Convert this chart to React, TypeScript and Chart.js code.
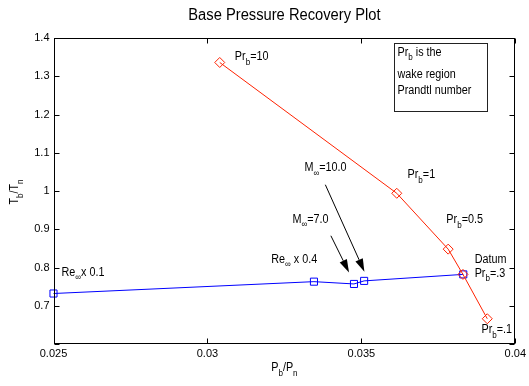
import React, { useEffect, useRef } from "react";
import { Chart, registerables } from "chart.js";
Chart.register(...registerables);

// Red series: Pr_b variation
const prX = [0.0304, 0.03615, 0.03782, 0.0383, 0.03909];
const prY = [1.336, 0.994, 0.848, 0.782, 0.666];
// Blue series: Re / Mach variation
const reX = [0.025, 0.03346, 0.03476, 0.03509, 0.03831];
const reY = [0.732, 0.763, 0.757, 0.765, 0.782];

const xTickValues = [0.025, 0.03, 0.035, 0.04];
const xTickLabels = ["0.025", "0.03", "0.035", "0.04"];
const yTickValues = [0.6, 0.7, 0.8, 0.9, 1.0, 1.1, 1.2, 1.3, 1.4];
const yTickLabels = ["", "0.7", "0.8", "0.9", "1", "1.1", "1.2", "1.3", "1.4"];

const titleText = "Base Pressure Recovery Plot";
const xTitle = "P_{b}/P_{n}";
const yTitle = "T_{b}/T_{n}";

// Annotation texts (data-coordinate anchors: left edge, vertical middle)
const labelTexts = ["Pr_{b}=10", "Pr_{b}=1", "Pr_{b}=0.5", "Datum", "Pr_{b}=.3", "Pr_{b}=.1", "Re_{∞}x 0.1", "Re_{∞} x 0.4", "M_{∞}=7.0", "M_{∞}=10.0"];
const labelX = [0.03089, 0.0365, 0.03776, 0.03868, 0.03868, 0.0389, 0.02526, 0.03207, 0.03276, 0.03315];
const labelY = [1.35, 1.042, 0.924, 0.82, 0.785, 0.637, 0.7875, 0.8214, 0.926, 1.061];

// Arrows
const arrowFromX = [0.03383, 0.03401];
const arrowFromY = [1.0164, 0.883];
const arrowToX = [0.0351, 0.0346];
const arrowToY = [0.789, 0.787];

// Note box
const noteLines = ["Pr_{b} is the", "wake region", "Prandtl number"];
const noteBoxX = [0.03605, 0.03908];
const noteBoxY = [1.387, 1.209];
const noteLineY = [1.362, 1.305, 1.262];

const FONT = "'Liberation Sans', Arial, sans-serif";
const SQUEEZE = 0.9;

function parseRich(text: string) {
  const segs: { t: string; sub: boolean }[] = [];
  const re = /_\{([^}]*)\}/g;
  let last = 0;
  let m: RegExpExecArray | null;
  while ((m = re.exec(text))) {
    if (m.index > last) segs.push({ t: text.slice(last, m.index), sub: false });
    segs.push({ t: m[1], sub: true });
    last = m.index + m[0].length;
  }
  if (last < text.length) segs.push({ t: text.slice(last), sub: false });
  return segs;
}

function drawRich(ctx: CanvasRenderingContext2D, text: string, x: number, y: number, size: number, align: "left" | "center" = "left", squeeze = SQUEEZE) {
  const segs = parseRich(text);
  const subSize = Math.round(size * 0.78);
  let total = 0;
  for (const s of segs) {
    ctx.font = `${s.sub ? subSize : size}px ${FONT}`;
    total += ctx.measureText(s.t).width;
  }
  ctx.save();
  ctx.translate(x, y);
  ctx.scale(squeeze, 1);
  let cx = align === "center" ? -total / 2 : 0;
  ctx.textBaseline = "middle";
  ctx.textAlign = "left";
  for (const s of segs) {
    ctx.font = `${s.sub ? subSize : size}px ${FONT}`;
    ctx.fillText(s.t, cx, s.sub ? size * 0.45 : 0);
    cx += ctx.measureText(s.t).width;
  }
  ctx.restore();
}

const decorPlugin = {
  id: "decor",
  afterDraw(chart: any) {
    const ctx: CanvasRenderingContext2D = chart.ctx;
    const xs = chart.scales.x;
    const ys = chart.scales.y;
    const a = chart.chartArea;
    const L = Math.round(a.left) + 0.5;
    const R = Math.round(a.right) - 0.5;
    const T = Math.round(a.top) + 0.5;
    const B = Math.round(a.bottom) - 0.5;
    ctx.save();
    ctx.strokeStyle = "#000";
    ctx.lineWidth = 1;
    ctx.strokeRect(L, T, R - L, B - T);
    const tl = 5;
    ctx.beginPath();
    for (const v of xTickValues) {
      const px = Math.round(xs.getPixelForValue(v)) + 0.5;
      ctx.moveTo(px, B); ctx.lineTo(px, B - tl);
      ctx.moveTo(px, T); ctx.lineTo(px, T + tl);
    }
    for (const v of yTickValues) {
      const py = Math.round(ys.getPixelForValue(v)) + 0.5;
      ctx.moveTo(L, py); ctx.lineTo(L + tl, py);
      ctx.moveTo(R, py); ctx.lineTo(R - tl, py);
    }
    ctx.stroke();

    ctx.fillStyle = "#000";
    // title
    drawRich(ctx, titleText, (a.left + a.right) / 2, 16, 16, "center", 0.92);
    // labels
    for (let i = 0; i < labelTexts.length; i++) {
      drawRich(ctx, labelTexts[i], xs.getPixelForValue(labelX[i]), ys.getPixelForValue(labelY[i]), 12);
    }
    // arrows
    for (let i = 0; i < arrowFromX.length; i++) {
      const x1 = xs.getPixelForValue(arrowFromX[i]);
      const y1 = ys.getPixelForValue(arrowFromY[i]);
      const x2 = xs.getPixelForValue(arrowToX[i]);
      const y2 = ys.getPixelForValue(arrowToY[i]);
      const ang = Math.atan2(y2 - y1, x2 - x1);
      const hl = 13, hw = 4;
      const bx = x2 - hl * Math.cos(ang);
      const by = y2 - hl * Math.sin(ang);
      ctx.beginPath();
      ctx.moveTo(x1, y1);
      ctx.lineTo(bx, by);
      ctx.stroke();
      ctx.beginPath();
      ctx.moveTo(x2, y2);
      ctx.lineTo(bx + hw * Math.sin(ang), by - hw * Math.cos(ang));
      ctx.lineTo(bx - hw * Math.sin(ang), by + hw * Math.cos(ang));
      ctx.closePath();
      ctx.fill();
    }
    // note box
    const nx1 = Math.round(xs.getPixelForValue(noteBoxX[0])) + 0.5;
    const nx2 = Math.round(xs.getPixelForValue(noteBoxX[1])) + 0.5;
    const ny1 = Math.round(ys.getPixelForValue(noteBoxY[0])) + 0.5;
    const ny2 = Math.round(ys.getPixelForValue(noteBoxY[1])) + 0.5;
    ctx.strokeStyle = "#222";
    ctx.strokeRect(nx1, ny1, nx2 - nx1, ny2 - ny1);
    for (let i = 0; i < noteLines.length; i++) {
      drawRich(ctx, noteLines[i], nx1 + 3, ys.getPixelForValue(noteLineY[i]), 12);
    }
    // axis titles
    drawRich(ctx, xTitle, (a.left + a.right) / 2, 368, 12, "center");
    ctx.save();
    ctx.translate(15, (a.top + a.bottom) / 2 + 1);
    ctx.rotate(-Math.PI / 2);
    drawRich(ctx, yTitle, 0, 0, 12, "center");
    ctx.restore();
    ctx.restore();
  },
};

export default function App() {
  const ref = useRef<HTMLCanvasElement | null>(null);
  useEffect(() => {
    if (!ref.current) return;
    const chart = new Chart(ref.current, {
      type: "scatter",
      data: {
        datasets: [
          {
            label: "Pr",
            data: prX.map((x, i) => ({ x, y: prY[i] })),
            showLine: true,
            borderColor: "#ff2200",
            backgroundColor: "rgba(0,0,0,0)",
            borderWidth: 1,
            pointStyle: "rectRot",
            pointRadius: 5,
            pointBorderWidth: 1,
            pointBorderColor: "#ff2200",
            clip: false as any,
          },
          {
            label: "Re",
            data: reX.map((x, i) => ({ x, y: reY[i] })),
            showLine: true,
            borderColor: "#0000ff",
            backgroundColor: "rgba(0,0,0,0)",
            borderWidth: 1,
            pointStyle: "rect",
            pointRadius: 5,
            pointBorderWidth: 1,
            pointBorderColor: "#0000ff",
            clip: false as any,
          },
        ],
      },
      options: {
        animation: false,
        responsive: false,
        devicePixelRatio: 1,
        layout: { padding: { left: 0, right: 10, top: 38, bottom: 0 } },
        plugins: {
          legend: { display: false },
          tooltip: { enabled: false },
          title: { display: false },
        },
        scales: {
          x: {
            type: "linear",
            min: 0.025,
            max: 0.04,
            grid: { display: false, drawTicks: false },
            border: { display: false },
            afterBuildTicks: (s: any) => {
              s.ticks = xTickValues.map((v) => ({ value: v }));
            },
            afterFit: (s: any) => {
              s.height = 42;
            },
            ticks: {
              color: "#000",
              padding: 3,
              maxRotation: 0,
              autoSkip: false,
              font: { family: FONT, size: 11 },
              callback: (v: any) => {
                const i = xTickValues.findIndex((t) => Math.abs(t - Number(v)) < 1e-7);
                return i >= 0 ? xTickLabels[i] : "";
              },
            },
          },
          y: {
            type: "linear",
            min: 0.6,
            max: 1.4,
            grid: { display: false, drawTicks: false },
            border: { display: false },
            afterBuildTicks: (s: any) => {
              s.ticks = yTickValues.map((v) => ({ value: v }));
            },
            afterFit: (s: any) => {
              s.width = 53.5;
            },
            ticks: {
              color: "#000",
              padding: 4,
              autoSkip: false,
              font: { family: FONT, size: 11 },
              callback: (v: any) => {
                const i = yTickValues.findIndex((t) => Math.abs(t - Number(v)) < 1e-7);
                return i >= 0 ? yTickLabels[i] : "";
              },
            },
          },
        },
      },
      plugins: [decorPlugin],
    } as any);
    return () => chart.destroy();
  }, []);
  return (
    <div style={{ position: "absolute", left: 0, top: 0, width: 529, height: 386, background: "#fff" }}>
      <canvas ref={ref} width={529} height={386} style={{ display: "block", width: 529, height: 386 }} />
    </div>
  );
}
